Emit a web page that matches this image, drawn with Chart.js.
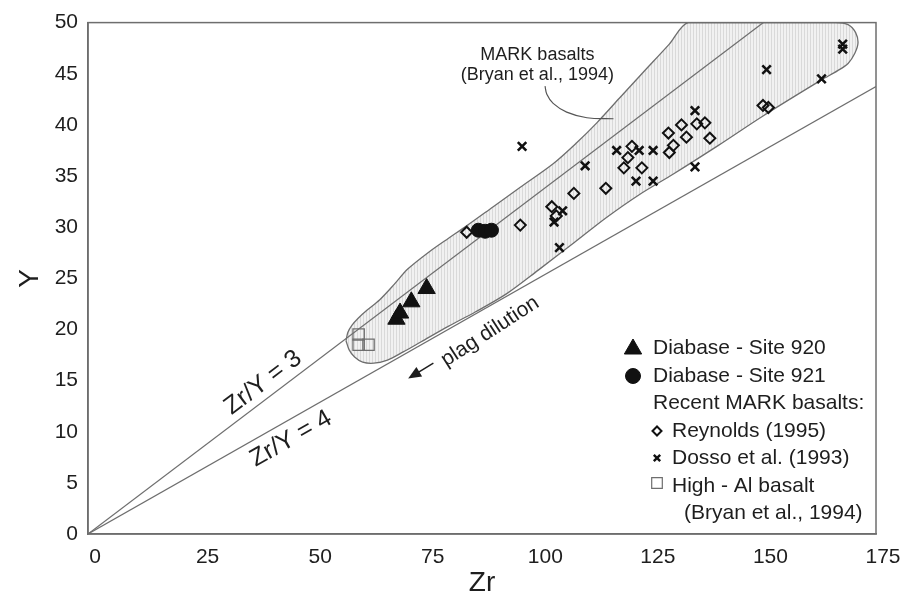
<!DOCTYPE html>
<html>
<head>
<meta charset="utf-8">
<script src="https://cdn.jsdelivr.net/npm/chart.js@4.4.0/dist/chart.umd.min.js"></script>
<style>
  html, body { margin: 0; padding: 0; background: #fff; }
</style>
</head>
<body>
<canvas id="zrChart" width="909" height="597"></canvas>
<script>
// Axis ticks
const xTickValues = [0, 25, 50, 75, 100, 125, 150, 175];
const yTickValues = [0, 5, 10, 15, 20, 25, 30, 35, 40, 45, 50];

// Diabase - Site 920 (triangles)
const site920Zr = [68.5, 69.3, 71.8, 75.2];
const site920Y  = [21.0, 21.6, 22.7, 24.0];

// Diabase - Site 921 (dots)
const site921Zr = [86.7, 88.2, 89.6];
const site921Y  = [29.7, 29.6, 29.7];

// Reynolds (1995)
const reynoldsZr = [84.1, 96.0, 103.0, 104.0, 107.9, 115.0, 119.0, 123.0, 119.9, 120.8,
                    128.9, 131.8, 132.9, 135.2, 137.0, 138.1, 130.0, 129.1, 149.9, 151.1];
const reynoldsY  = [29.5, 30.2, 32.0, 31.1, 33.3, 33.8, 35.8, 35.8, 36.8, 37.9,
                    39.2, 40.0, 38.8, 40.1, 40.2, 38.7, 38.0, 37.3, 41.9, 41.7];

// Dosso et al. (1993)
const dossoZr = [96.4, 110.4, 105.4, 103.5, 104.7, 117.4, 122.4, 125.5, 121.7, 125.5,
                 134.8, 134.8, 150.7, 162.9, 167.6, 167.6];
const dossoY  = [37.9, 36.0, 31.6, 30.5, 28.0, 37.5, 37.5, 37.5, 34.5, 34.5,
                 41.4, 35.9, 45.4, 44.5, 47.9, 47.4];

// High - Al basalt (Bryan et al., 1994)
const highAlZr = [60.1, 60.1, 62.3];
const highAlY  = [19.5, 18.5, 18.5];

// MARK basalts field outline (Bryan et al., 1994)
const fieldZr = [57.3, 57.7, 58.6, 60.0, 62.0, 64.8, 68.0, 71.0, 75.8, 80.0, 84.0, 90.0, 96.0,
                 103.3, 108.4, 113.0, 118.0, 123.0, 129.1, 133.3, 150.0, 166.0, 168.8, 170.5,
                 171.0, 170.3, 168.8, 166.5, 162.9, 150.0, 140.0, 130.0, 122.5, 115.0, 108.0,
                 100.0, 93.0, 86.0, 80.0, 74.0, 70.0, 66.5, 63.5, 61.0, 59.2, 58.0, 57.3];
const fieldY  = [18.9, 19.7, 20.4, 21.1, 21.9, 22.9, 24.4, 25.9, 27.6, 28.9, 30.1, 32.0, 33.9,
                 36.2, 38.2, 40.2, 42.6, 45.0, 47.9, 50.0, 50.0, 50.0, 49.8, 49.0,
                 48.0, 47.0, 46.0, 45.3, 44.4, 40.9, 38.0, 35.2, 33.2, 30.9, 28.5,
                 25.8, 23.5, 21.7, 20.3, 18.8, 17.8, 17.0, 16.7, 16.8, 17.3, 18.0, 18.9];

// Leader from the field label
const leaderZr = [101.5, 101.9, 103.3, 106.3, 110.8, 116.7];
const leaderY  = [43.8, 43.0, 42.1, 41.25, 40.7, 40.6];

// Zr/Y reference lines
const ratio3Zr = [0, 150];
const ratio3Y  = [0, 50];
const ratio4Zr = [0, 175];
const ratio4Y  = [0, 43.75];

// plag dilution arrow (tail -> head)
const plagArrowZr = [76.7, 71.1];
const plagArrowY  = [16.7, 15.2];

// Legend
const legendLabels = ['Diabase - Site 920', 'Diabase - Site 921', 'Recent MARK basalts:',
                      'Reynolds (1995)', 'Dosso et al. (1993)', 'High - Al basalt',
                      '(Bryan et al., 1994)'];

const FONT = "'Liberation Sans', Arial, Helvetica, sans-serif";
const INK = '#1e1e1e';
const LINE_GRAY = '#6e6e6e';

const toPoints = (xs, ys) => xs.map((x, i) => ({ x: x, y: ys[i] }));

// vertical hatching for the shaded field
function makeHatch() {
    const c = document.createElement('canvas');
    c.width = 3; c.height = 3;
    const g = c.getContext('2d');
    g.fillStyle = '#f1f1f1';
    g.fillRect(0, 0, 3, 3);
    g.fillStyle = '#d9d9d9';
    g.fillRect(0, 0, 1, 3);
    return g.createPattern(c, 'repeat');
}

function drawMarker(ctx, style, x, y, r, fill, stroke, lw) {
    ctx.save();
    ctx.fillStyle = fill;
    ctx.strokeStyle = stroke;
    ctx.lineWidth = lw;
    if (Chart.helpers && Chart.helpers.drawPoint) {
        Chart.helpers.drawPoint(ctx, { pointStyle: style, radius: r, rotation: 0, borderWidth: lw }, x, y);
    } else {
        ctx.beginPath();
        ctx.arc(x, y, r, 0, Math.PI * 2);
        ctx.fill();
        ctx.stroke();
    }
    ctx.restore();
}

function drawRotatedText(ctx, text, x, y, angle, size) {
    ctx.save();
    ctx.translate(x, y);
    ctx.rotate(angle);
    ctx.font = size + 'px ' + FONT;
    ctx.fillStyle = INK;
    ctx.textAlign = 'center';
    ctx.textBaseline = 'middle';
    ctx.fillText(text, 0, 0);
    ctx.restore();
}

const annotationPlugin = {
    id: 'annotations',
    afterDatasetsDraw(chart) {
        const ctx = chart.ctx;
        const xs = chart.scales.x, ys = chart.scales.y;
        const px = v => xs.getPixelForValue(v);
        const py = v => ys.getPixelForValue(v);
        const lineAngle = (zr, yv) => Math.atan2(py(yv[1]) - py(yv[0]), px(zr[1]) - px(zr[0]));
        const area = chart.chartArea;

        // frame
        ctx.save();
        ctx.strokeStyle = LINE_GRAY;
        ctx.lineWidth = 1.5;
        ctx.strokeRect(area.left, area.top, area.right - area.left, area.bottom - area.top);
        ctx.restore();

        // field label
        drawRotatedText(ctx, 'MARK basalts', px(99.8), py(46.8), 0, 18);
        drawRotatedText(ctx, '(Bryan et al., 1994)', px(99.8), py(44.9), 0, 18);

        // ratio labels
        drawRotatedText(ctx, 'Zr/Y = 3', px(38.9), py(14.8), lineAngle(ratio3Zr, ratio3Y), 25);
        drawRotatedText(ctx, 'Zr/Y = 4', px(45.1), py(9.3), lineAngle(ratio4Zr, ratio4Y), 25);
        drawRotatedText(ctx, 'plag dilution', px(89.3), py(19.8), -33 * Math.PI / 180, 21);

        // plag dilution arrow
        const tx = px(plagArrowZr[0]), ty = py(plagArrowY[0]);
        const hx = px(plagArrowZr[1]), hy = py(plagArrowY[1]);
        const a = Math.atan2(hy - ty, hx - tx);
        ctx.save();
        ctx.strokeStyle = INK;
        ctx.fillStyle = INK;
        ctx.lineWidth = 1.5;
        ctx.beginPath();
        ctx.moveTo(tx, ty);
        ctx.lineTo(hx - 8 * Math.cos(a), hy - 8 * Math.sin(a));
        ctx.stroke();
        ctx.beginPath();
        ctx.moveTo(hx, hy);
        ctx.lineTo(hx - 13 * Math.cos(a) + 5.5 * Math.sin(a), hy - 13 * Math.sin(a) - 5.5 * Math.cos(a));
        ctx.lineTo(hx - 13 * Math.cos(a) - 5.5 * Math.sin(a), hy - 13 * Math.sin(a) + 5.5 * Math.cos(a));
        ctx.closePath();
        ctx.fill();
        ctx.restore();

        // legend
        const rowY = [-186, -158, -131, -103, -76, -48, -21].map(d => area.bottom + d);
        const m1 = area.right - 243, t1 = area.right - 223;
        const m2 = area.right - 219, t2 = area.right - 204, t3 = area.right - 192;
        drawMarker(ctx, 'triangle', m1, rowY[0] + 1, 10, '#111', '#111', 1);
        drawMarker(ctx, 'circle', m1, rowY[1], 7.5, '#111', '#111', 1);
        drawMarker(ctx, 'rectRot', m2, rowY[3], 4.5, 'rgba(0,0,0,0)', '#111', 2);
        drawMarker(ctx, 'crossRot', m2, rowY[4], 4.5, 'rgba(0,0,0,0)', '#111', 2.4);
        drawMarker(ctx, 'rect', m2, rowY[5] - 3, 7.5, 'rgba(0,0,0,0)', LINE_GRAY, 1.2);

        ctx.save();
        ctx.font = '21px ' + FONT;
        ctx.fillStyle = INK;
        ctx.textAlign = 'left';
        ctx.textBaseline = 'middle';
        const textX = [t1, t1, t1, t2, t2, t2, t3];
        legendLabels.forEach((label, i) => ctx.fillText(label, textX[i], rowY[i]));
        ctx.restore();
    }
};

const ctx = document.getElementById('zrChart').getContext('2d');

new Chart(ctx, {
    type: 'line',
    data: {
        datasets: [
            {
                label: 'Diabase - Site 920',
                data: toPoints(site920Zr, site920Y),
                showLine: false,
                pointStyle: 'triangle',
                pointRadius: 10,
                pointBackgroundColor: '#111',
                pointBorderColor: '#111',
                pointBorderWidth: 1,
                order: 0
            },
            {
                label: 'Diabase - Site 921',
                data: toPoints(site921Zr, site921Y),
                showLine: false,
                pointStyle: 'circle',
                pointRadius: 7,
                pointBackgroundColor: '#111',
                pointBorderColor: '#111',
                pointBorderWidth: 1,
                order: 0
            },
            {
                label: 'Reynolds (1995)',
                data: toPoints(reynoldsZr, reynoldsY),
                showLine: false,
                pointStyle: 'rectRot',
                pointRadius: 5.5,
                pointBackgroundColor: 'rgba(0,0,0,0)',
                pointBorderColor: '#111',
                pointBorderWidth: 2,
                order: 1
            },
            {
                label: 'Dosso et al. (1993)',
                data: toPoints(dossoZr, dossoY),
                showLine: false,
                pointStyle: 'crossRot',
                pointRadius: 6,
                pointBorderColor: '#111',
                pointBorderWidth: 2.6,
                order: 1
            },
            {
                label: 'High - Al basalt',
                data: toPoints(highAlZr, highAlY),
                showLine: false,
                pointStyle: 'rect',
                pointRadius: 8,
                pointBackgroundColor: 'rgba(0,0,0,0)',
                pointBorderColor: LINE_GRAY,
                pointBorderWidth: 1.3,
                order: 1
            },
            {
                label: 'Zr/Y = 3',
                data: toPoints(ratio3Zr, ratio3Y),
                borderColor: LINE_GRAY,
                borderWidth: 1.2,
                pointRadius: 0,
                fill: false,
                order: 5
            },
            {
                label: 'Zr/Y = 4',
                data: toPoints(ratio4Zr, ratio4Y),
                borderColor: LINE_GRAY,
                borderWidth: 1.2,
                pointRadius: 0,
                fill: false,
                order: 5
            },
            {
                label: 'leader',
                data: toPoints(leaderZr, leaderY),
                borderColor: '#555',
                borderWidth: 1.2,
                pointRadius: 0,
                tension: 0.4,
                fill: false,
                order: 5
            },
            {
                label: 'MARK basalts',
                data: toPoints(fieldZr, fieldY),
                borderColor: LINE_GRAY,
                borderWidth: 1.3,
                backgroundColor: makeHatch(),
                pointRadius: 0,
                tension: 0.3,
                fill: 'shape',
                order: 10
            }
        ]
    },
    options: {
        responsive: false,
        animation: false,
        layout: { padding: { top: 19, right: 33, left: 0, bottom: 0 } },
        plugins: {
            legend: { display: false },
            tooltip: { enabled: false }
        },
        scales: {
            x: {
                type: 'linear',
                min: 0,
                max: 175,
                afterBuildTicks: s => { s.ticks = xTickValues.map(v => ({ value: v })); },
                afterFit: s => { s.height = 63; },
                grid: { display: false, drawTicks: false },
                border: { display: true, color: LINE_GRAY, width: 1.5 },
                ticks: {
                    font: { family: FONT, size: 21 },
                    color: INK,
                    padding: 11,
                    labelOffset: 7,
                    maxRotation: 0
                },
                title: {
                    display: true,
                    text: 'Zr',
                    font: { family: FONT, size: 28, lineHeight: 1 },
                    color: INK,
                    padding: { top: 0, bottom: 0 }
                }
            },
            y: {
                type: 'linear',
                min: 0,
                max: 50,
                afterBuildTicks: s => { s.ticks = yTickValues.map(v => ({ value: v })); },
                afterFit: s => { s.width = 88; },
                grid: { display: false, drawTicks: false },
                border: { display: true, color: LINE_GRAY, width: 1.5 },
                ticks: {
                    font: { family: FONT, size: 21 },
                    color: INK,
                    padding: 10
                },
                title: {
                    display: true,
                    text: 'Y',
                    font: { family: FONT, size: 28, lineHeight: 1 },
                    color: INK,
                    padding: { top: 16, bottom: 0 }
                }
            }
        }
    },
    plugins: [annotationPlugin]
});
</script>
</body>
</html>
